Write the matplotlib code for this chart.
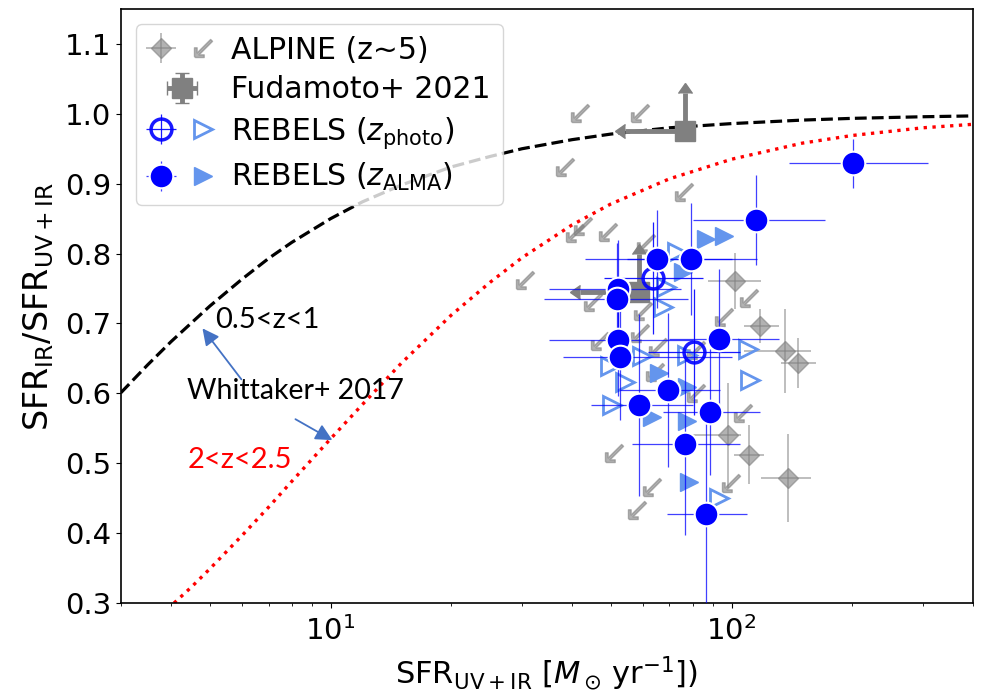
import numpy as np
import matplotlib
matplotlib.use("Agg")
import matplotlib.pyplot as plt
from matplotlib.legend_handler import HandlerTuple

# ---------------- data ----------------
# Whittaker+2017 relations
w1_x = [3, 3.5, 4, 4.5, 5, 6, 7, 8, 10, 12, 15, 20, 25, 30, 40, 50, 70, 100, 150, 200, 300, 400]
w1_y = [0.601, 0.641, 0.674, 0.701, 0.725, 0.763, 0.793, 0.816, 0.850, 0.874, 0.898,
        0.924, 0.939, 0.950, 0.963, 0.971, 0.980, 0.986, 0.991, 0.9935, 0.9958, 0.997]
w2_x = [3.5, 4, 4.5, 5, 6, 7, 8, 10, 12, 15, 20, 25, 30, 40, 50, 70, 100, 150, 200, 300, 400]
w2_y = [0.266, 0.296, 0.323, 0.349, 0.396, 0.437, 0.474, 0.535, 0.584, 0.643, 0.712,
        0.759, 0.794, 0.841, 0.871, 0.907, 0.935, 0.958, 0.969, 0.980, 0.985]

# ALPINE detections
alp_x = [101.7, 117.5, 135.7, 146.2, 97.7, 110.3, 138.0]
alp_y = [0.761, 0.696, 0.661, 0.643, 0.540, 0.512, 0.479]
alp_xlo = [87.1, 107.2, 107.2, 132.6, 79.4, 101.2, 118.1]
alp_xhi = [118.1, 131.1, 157.6, 162.2, 105.3, 120.2, 157.6]
alp_yerr = [0.04, 0.024, 0.06, 0.036, 0.075, 0.042, 0.063]

# ALPINE upper limits
alpu_x = [41.9, 59.2, 38.5, 75.9, 40.7, 42.7, 49.3, 61.0, 30.5, 110.3, 45.2, 60.3,
          95.5, 47.0, 59.2, 65.7, 81.3, 64.6, 81.3, 106.5, 51.0, 63.5, 99.4, 58.2]
alpu_y = [1.001, 1.001, 0.924, 0.888, 0.829, 0.839, 0.831, 0.815, 0.762, 0.736, 0.731,
          0.718, 0.709, 0.675, 0.686, 0.666, 0.662, 0.630, 0.600, 0.572, 0.515, 0.466,
          0.472, 0.433]

# Fudamoto+2021
fud_x = [76.7, 58.8]
fud_y = [0.975, 0.745]
fud_xerr = [22.4, 17.0]
fud_yerr = [0.055, 0.055]

# REBELS z_photo (open circles)
rp_x = [63.8, 80.8]
rp_y = [0.765, 0.659]
rp_xlo = [48, 62]
rp_xhi = [85, 105]
rp_yerr = [0.08, 0.09]

# REBELS z_ALMA (filled circles)
ra_x = [200.7, 114.8, 65.3, 79.4, 52.2, 51.9, 52.2, 52.8, 69.6, 58.9, 88.1, 76.7, 86.1, 92.8]
ra_y = [0.929, 0.848, 0.792, 0.792, 0.749, 0.735, 0.676, 0.652, 0.605, 0.583, 0.573,
        0.527, 0.427, 0.678]
ra_xlo = [138.8, 80, 43, 55, 35, 34, 35, 38, 52.8, 44.7, 67.6, 56.6, 69, 70]
ra_xhi = [309, 171, 100, 116, 75, 78, 80, 100, 93.7, 80, 118, 105, 109, 131]
ra_yerr = [0.035, 0.065, 0.07, 0.08, 0.07, 0.08, 0.08, 0.09, 0.11, 0.13, 0.09, 0.13,
           0.13, 0.10]

# REBELS limits (triangles)
tp_x = [73.3, 68.8, 67.6, 59.9, 49.8, 54.3, 50.4, 77.2, 109.6, 110.9, 92.8]
tp_y = [0.802, 0.752, 0.723, 0.653, 0.639, 0.616, 0.583, 0.655, 0.663, 0.619, 0.450]
ta_x = [86.1, 95.5, 75.5, 66.1, 77.6, 63.5, 77.2, 78.5]
ta_y = [0.821, 0.825, 0.774, 0.629, 0.609, 0.566, 0.560, 0.473]

legend_labels = ["ALPINE (z~5)", "Fudamoto+ 2021",
                 r"REBELS ($z_{\rm photo}$)", r"REBELS ($z_{\rm ALMA}$)"]

# ---------------- plot ----------------
plt.rcParams['font.family'] = ['DejaVu Sans']
fig = plt.figure(figsize=(9.82, 6.97), dpi=100)
ax = fig.add_axes([0.1232, 0.1349, 0.8676, 0.8522])
ax.set_xscale('log')

ax.plot(w1_x, w1_y, '--', color='black', lw=2.3, zorder=2)
ax.plot(w2_x, w2_y, ':', color='red', lw=2.4, zorder=2)

# ALPINE
alp_x_a = np.array(alp_x)
h_alp_d = ax.errorbar(alp_x, alp_y,
                      xerr=[alp_x_a - np.array(alp_xlo), np.array(alp_xhi) - alp_x_a],
                      yerr=alp_yerr, fmt='D', color='gray', alpha=0.6, ms=10,
                      elinewidth=1.2, zorder=3)
h_alp_a, = ax.plot(alpu_x, alpu_y, ls='none', marker=r'$\swarrow$', ms=13,
                   color='gray', alpha=0.6, zorder=3)

# Fudamoto
h_fud = ax.errorbar(fud_x, fud_y, xerr=fud_xerr, yerr=fud_yerr, xuplims=True,
                    lolims=True, fmt='s', color='gray', ms=15, elinewidth=3.5,
                    capsize=5, capthick=1, zorder=4)

# REBELS triangles
h_tp, = ax.plot(tp_x, tp_y, ls='none', marker='>', ms=13.5, mfc='none',
                mec='cornflowerblue', mew=2, zorder=4)
h_ta, = ax.plot(ta_x, ta_y, ls='none', marker='>', ms=12.5, color='cornflowerblue',
                zorder=4)

# REBELS circles
rp_x_a = np.array(rp_x)
h_rp = ax.errorbar(rp_x, rp_y,
                   xerr=[rp_x_a - np.array(rp_xlo), np.array(rp_xhi) - rp_x_a],
                   yerr=rp_yerr, fmt='o', ms=15, mfc='none', mec='blue', mew=2.5,
                   ecolor='blue', elinewidth=0.9, alpha=0.9, zorder=5)
ra_x_a = np.array(ra_x)
h_ra = ax.errorbar(ra_x, ra_y,
                   xerr=[ra_x_a - np.array(ra_xlo), np.array(ra_xhi) - ra_x_a],
                   yerr=ra_yerr, fmt='o', ms=17, mfc='blue', mec='white', mew=1.5,
                   ecolor='blue', elinewidth=0.9, zorder=6)
for bar in h_ra[2]:
    bar.set_alpha(0.75)

# annotations
ann_font = ['Lato', 'DejaVu Sans']
ax.text(5.16, 0.705, '0.5<z<1', fontsize=21, family=ann_font, color='black',
        va='center', ha='left')
ax.text(4.39, 0.603, 'Whittaker+ 2017', fontsize=20.5, family=ann_font, color='black',
        va='center', ha='left')
ax.text(4.39, 0.505, '2<z<2.5', fontsize=21, family=ann_font, color='red',
        va='center', ha='left')
ax.annotate('', xy=(4.79, 0.693), xytext=(5.99, 0.620),
            arrowprops=dict(arrowstyle='-|>', color='#4472C4', lw=1.3,
                            mutation_scale=25, shrinkA=0, shrinkB=0))
ax.annotate('', xy=(10.1, 0.533), xytext=(8.17, 0.563),
            arrowprops=dict(arrowstyle='-|>', color='#4472C4', lw=1.3,
                            mutation_scale=25, shrinkA=0, shrinkB=0))

ax.set_xlim(3, 400)
ax.set_ylim(0.3, 1.15)
ax.set_yticks([0.3, 0.4, 0.5, 0.6, 0.7, 0.8, 0.9, 1.0, 1.1])
ax.tick_params(labelsize=21)
ax.tick_params(axis='x', pad=6)
for s in ax.spines.values():
    s.set_linewidth(1.2)
ax.set_xlabel(r'SFR$_{\rm UV+IR}$ [$M_\odot\,{\rm yr}^{-1}$])', fontsize=22, labelpad=6)
ax.set_ylabel(r'SFR$_{\rm IR}$/SFR$_{\rm UV+IR}$', fontsize=24, labelpad=6)

ax.legend([(h_alp_d, h_alp_a), h_fud, (h_rp, h_tp), (h_ra, h_ta)], legend_labels,
          handler_map={tuple: HandlerTuple(ndivide=None, pad=0.5)},
          loc='upper left', fontsize=21.5, handlelength=2.3, handletextpad=0.5,
          labelspacing=0.35, borderaxespad=0.5)

fig.savefig('out.png', dpi=100)
